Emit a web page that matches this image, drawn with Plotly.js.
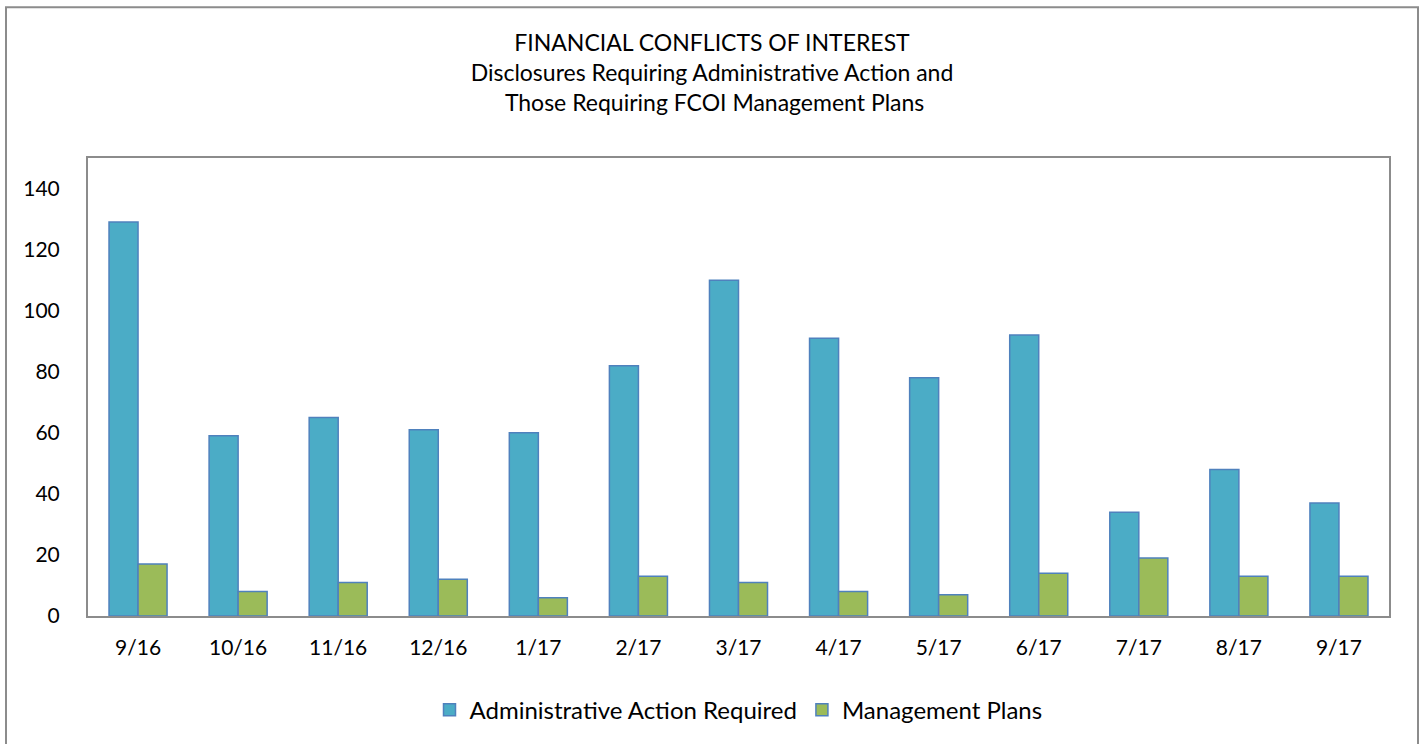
<!DOCTYPE html>
<html>
<head>
<meta charset="utf-8">
<script src="https://cdn.plot.ly/plotly-3.0.1.min.js"></script>
<style>
  html, body { margin: 0; padding: 0; background: #ffffff; }
  #chart { width: 1424px; height: 744px; }
</style>
</head>
<body>
<div id="chart"></div>
<script>
const categories = ["9/16", "10/16", "11/16", "12/16", "1/17", "2/17", "3/17", "4/17", "5/17", "6/17", "7/17", "8/17", "9/17"];
const adminActionRequired = [129, 59, 65, 61, 60, 82, 110, 91, 78, 92, 34, 48, 37];
const managementPlans = [17, 8, 11, 12, 6, 13, 11, 8, 7, 14, 19, 13, 13];
const yTickValues = [0, 20, 40, 60, 80, 100, 120, 140];

const FONT = "Lato, 'Open Sans', sans-serif";

const traces = [
  {
    type: "bar",
    name: "Administrative Action Required",
    x: categories,
    y: adminActionRequired,
    marker: { color: "#4BACC6", line: { color: "#4F81BD", width: 1.5 } },
    hoverinfo: "x+y+name"
  },
  {
    type: "bar",
    name: "Management Plans",
    x: categories,
    y: managementPlans,
    marker: { color: "#9BBB59", line: { color: "#4F81BD", width: 1.5 } },
    hoverinfo: "x+y+name"
  }
];

const layout = {
  width: 1424,
  height: 744,
  margin: { l: 88, r: 35, t: 158, b: 127, pad: 0 },
  paper_bgcolor: "#ffffff",
  plot_bgcolor: "#ffffff",
  font: { family: FONT, color: "#000000", size: 21 },
  title: {
    text: "FINANCIAL CONFLICTS OF INTEREST<br>Disclosures Requiring Administrative Action and<br> Those Requiring FCOI Management Plans",
    font: { family: FONT, size: 23, color: "#000000" },
    x: 0.5,
    xanchor: "center",
    y: 1 - 51 / 744,
    yanchor: "middle"
  },
  barmode: "group",
  bargap: 0.42,
  bargroupgap: 0,
  xaxis: {
    type: "category",
    showgrid: false,
    zeroline: false,
    showline: true,
    linecolor: "#8c8c8c",
    linewidth: 2,
    mirror: true,
    ticks: "",
    tickfont: { family: FONT, size: 21, color: "#000000" },
    ticklabelstandoff: 12
  },
  yaxis: {
    range: [0, 150],
    tickvals: yTickValues,
    showgrid: false,
    zeroline: false,
    showline: true,
    linecolor: "#8c8c8c",
    linewidth: 2,
    mirror: true,
    ticks: "",
    tickfont: { family: FONT, size: 21, color: "#000000" },
    ticklabelstandoff: 22
  },
  showlegend: true,
  legend: {
    orientation: "h",
    x: 0.5,
    xanchor: "center",
    y: -0.203,
    yanchor: "middle",
    font: { family: FONT, size: 24, color: "#000000" },
    itemwidth: 30,
    tracegroupgap: 0
  },
  shapes: [
    {
      type: "rect",
      xref: "paper", yref: "paper",
      x0: (6 - 88) / 1301, x1: (1418 - 88) / 1301,
      y0: (617 - 760) / 459, y1: (617 - 7) / 459,
      line: { color: "#8c8c8c", width: 2 },
      fillcolor: "rgba(0,0,0,0)",
      layer: "below"
    }
  ]
};

Plotly.newPlot("chart", traces, layout, { displayModeBar: false, staticPlot: false });
</script>
</body>
</html>
